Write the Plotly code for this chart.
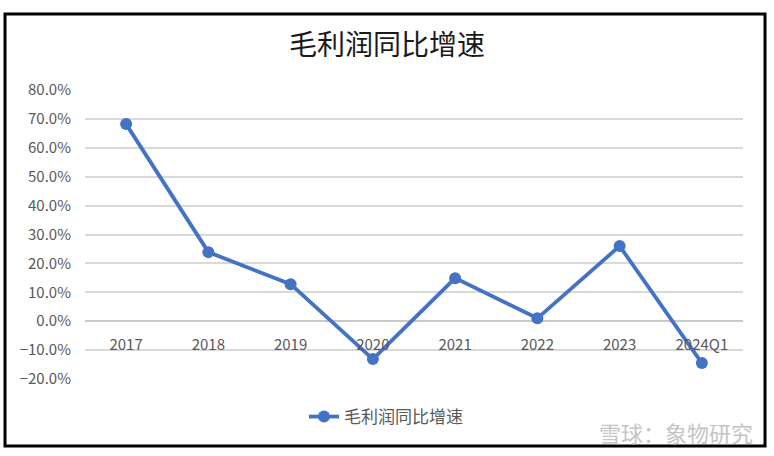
import plotly.graph_objects as go

categories = ["2017", "2018", "2019", "2020", "2021", "2022", "2023", "2024Q1"]
growth = [0.682, 0.239, 0.128, -0.131, 0.149, 0.010, 0.260, -0.145]
series_name = "毛利润同比增速"
title_text = "毛利润同比增速"
y_ticks = [-0.2, -0.1, 0.0, 0.1, 0.2, 0.3, 0.4, 0.5, 0.6, 0.7, 0.8]
watermark = "雪球：象物研究"

W, H = 774, 456
L, R, T, B = 85, 31, 90, 77
pw, ph = W - L - R, H - T - B

def px(x):
    return (x - L) / pw

def py(y):
    return (H - B - y) / ph

fig = go.Figure()
fig.add_trace(go.Scatter(
    x=categories, y=growth, mode="lines+markers", name=series_name,
    line=dict(color="#4472C4", width=3.8),
    marker=dict(color="#4472C4", size=12),
))

font_family = "Noto Sans CJK SC, Open Sans, sans-serif"
fig.update_layout(
    width=W, height=H,
    margin=dict(l=L, r=R, t=T, b=B),
    paper_bgcolor="white", plot_bgcolor="white",
    font=dict(family=font_family, size=15, color="#595959"),
    title=dict(text=title_text, x=0.5, xanchor="center", y=1 - 45 / H, yanchor="middle",
               font=dict(size=28, color="#1a1a1a", family=font_family)),
    showlegend=True,
    legend=dict(orientation="h", x=px(386), xanchor="center", y=py(417), yanchor="middle",
                font=dict(size=17, color="#595959"), bgcolor="rgba(0,0,0,0)"),
    xaxis=dict(type="category", range=[-0.5, 7.5], showgrid=False, showline=False,
               anchor="free", position=0.2, ticks="outside", ticklen=10,
               tickcolor="rgba(0,0,0,0)", tickfont=dict(size=15, color="#595959"),
               zeroline=False),
    yaxis=dict(range=[-0.2, 0.8], tickvals=y_ticks, tickformat=".1%",
               showgrid=True, gridcolor="#d9d9d9", gridwidth=1.5,
               zeroline=True, zerolinecolor="#c8c8c8", zerolinewidth=1.5,
               showline=False, ticks="", ticklabelstandoff=13,
               tickfont=dict(size=15, color="#595959")),
    shapes=[dict(type="rect", xref="paper", yref="paper",
                 x0=px(5), x1=px(765), y0=py(446), y1=py(14),
                 line=dict(color="black", width=3), fillcolor="rgba(0,0,0,0)", layer="above")],
    annotations=[dict(text=watermark, xref="paper", yref="paper",
                      x=px(755), y=py(432), xanchor="right", yanchor="middle",
                      showarrow=False, font=dict(size=22, color="#c4c4c4", family=font_family))],
)

fig.write_html("out.html", config={"displayModeBar": False},
               post_script="document.body.style.margin='0';document.body.style.overflow='hidden';")
